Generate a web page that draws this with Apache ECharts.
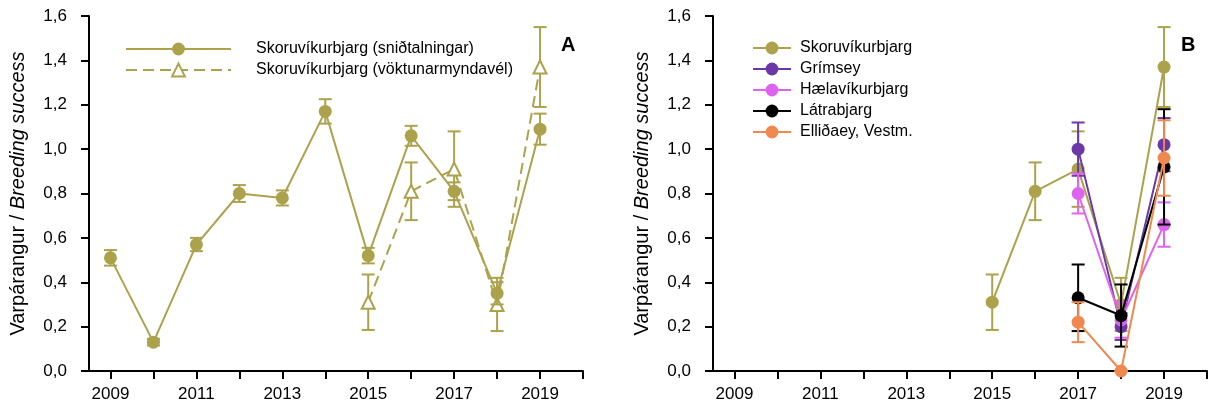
<!DOCTYPE html>
<html>
<head>
<meta charset="utf-8">
<script src="https://cdn.jsdelivr.net/npm/echarts@6/dist/echarts.min.js"></script>
<style>
  html, body { margin: 0; padding: 0; background: #fff; }
  #main { width: 1209px; height: 415px; }
</style>
</head>
<body>
<div id="main"></div>
<script>
// panel A: transect counts (sniðtalningar) 2009-2019
const countYears = [2009, 2010, 2011, 2012, 2013, 2014, 2015, 2016, 2017, 2018, 2019];
const countVals = [0.51, 0.13, 0.57, 0.80, 0.78, 1.17, 0.52, 1.06, 0.81, 0.35, 1.09];
const countErr = [0.035, 0.015, 0.03, 0.038, 0.034, 0.055, 0.035, 0.045, 0.04, 0.05, 0.07];

// camera monitoring (vöktunarmyndavél) 2015-2019, also Skoruvíkurbjarg in panel B
const camYears = [2015, 2016, 2017, 2018, 2019];
const camVals = [0.31, 0.81, 0.91, 0.30, 1.37];
const camErr = [0.125, 0.13, 0.17, 0.12, 0.18];

// panel B: other colonies 2017-2019
const siteYears = [2017, 2018, 2019];
const grimseyVals = [1.00, 0.20, 1.02];
const grimseyErr = [0.12, 0.06, 0.12];
const haelavikVals = [0.80, 0.23, 0.66];
const haelavikErr = [0.09, 0.08, 0.10];
const latraVals = [0.33, 0.25, 0.92];
const latraErr = [0.15, 0.14, 0.26];
const ellidaeyVals = [0.22, 0.00, 0.96];
const ellidaeyErr = [0.09, 0.0, 0.17];

const tickYears = [2009, 2010, 2011, 2012, 2013, 2014, 2015, 2016, 2017, 2018, 2019, 2020];
const labelYears = [2009, 2011, 2013, 2015, 2017, 2019];

const OLIVE = '#ADA24C';
const PURPLE = '#6A38A8';
const PINK = '#E062F0';
const BLACK = '#000000';
const ORANGE = '#F0894F';
const FONT = '"Liberation Sans", Arial, sans-serif';

const chart = echarts.init(document.getElementById('main'));

const pairs = (xs, ys) => xs.map((x, i) => [x, ys[i]]);
const errData = (xs, ys, es) => xs.map((x, i) => [x, ys[i] - es[i], ys[i] + es[i]]);

// error bars drawn as custom series (vertical line + caps)
function errSeries(name, xs, ys, es, color, idx, z) {
  return {
    name: name + ' err',
    type: 'custom',
    xAxisIndex: idx,
    yAxisIndex: idx,
    z: z,
    silent: true,
    itemStyle: { color: color },
    data: errData(xs, ys, es),
    renderItem: function (params, api) {
      const x = api.value(0);
      const lo = api.coord([x, api.value(1)]);
      const hi = api.coord([x, api.value(2)]);
      const w = 6.5;
      const st = { stroke: color, lineWidth: 2 };
      return {
        type: 'group',
        children: [
          { type: 'line', shape: { x1: lo[0], y1: lo[1], x2: hi[0], y2: hi[1] }, style: st },
          { type: 'line', shape: { x1: lo[0] - w, y1: lo[1], x2: lo[0] + w, y2: lo[1] }, style: st },
          { type: 'line', shape: { x1: hi[0] - w, y1: hi[1], x2: hi[0] + w, y2: hi[1] }, style: st }
        ]
      };
    }
  };
}

function lineSeries(name, xs, ys, color, idx, z, extra) {
  return Object.assign({
    name: name,
    type: 'line',
    xAxisIndex: idx,
    yAxisIndex: idx,
    z: z,
    data: pairs(xs, ys),
    symbol: 'circle',
    symbolSize: 13,
    itemStyle: { color: color },
    lineStyle: { color: color, width: 2 }
  }, extra || {});
}

function xAxisCfg(idx) {
  return {
    type: 'value',
    gridIndex: idx,
    min: 2008.5,
    max: 2020,
    splitLine: { show: false },
    axisLine: { onZero: false, lineStyle: { color: '#000', width: 2 } },
    axisTick: { show: true, length: 8, lineStyle: { color: '#000', width: 2 }, customValues: tickYears },
    axisLabel: { customValues: labelYears, color: '#000', fontSize: 17, fontFamily: FONT, margin: 15,
      formatter: v => String(v) }
  };
}

function yAxisCfg(idx) {
  return {
    type: 'value',
    gridIndex: idx,
    min: 0,
    max: 1.6,
    interval: 0.2,
    splitLine: { show: false },
    axisLine: { show: true, lineStyle: { color: '#000', width: 2 } },
    axisTick: { show: true, length: 8, lineStyle: { color: '#000', width: 2 } },
    axisLabel: { color: '#000', fontSize: 17, fontFamily: FONT, margin: 22,
      formatter: v => v.toFixed(1).replace('.', ',') },
    name: '{a|Varpárangur / }{b|Breeding success}',
    nameLocation: 'middle',
    nameGap: 61,
    nameTextStyle: {
      rich: {
        a: { fontSize: 20, fontFamily: FONT, color: '#000' },
        b: { fontSize: 20, fontFamily: FONT, color: '#000', fontStyle: 'italic' }
      }
    }
  };
}

const legendText = { color: '#000', fontSize: 16, fontFamily: FONT };

const option = {
  animation: false,
  backgroundColor: '#fff',
  grid: [
    { left: 89, top: 16, width: 494, height: 355 },
    { left: 713, top: 16, width: 494, height: 355 }
  ],
  xAxis: [xAxisCfg(0), xAxisCfg(1)],
  yAxis: [yAxisCfg(0), yAxisCfg(1)],
  legend: [
    {
      orient: 'vertical',
      left: 125,
      top: 41,
      padding: 0,
      itemWidth: 105,
      itemHeight: 16,
      itemGap: 5,
      textStyle: Object.assign({ padding: [0, 0, 0, 20] }, legendText),
      data: ['Skoruvíkurbjarg (sniðtalningar)', 'Skoruvíkurbjarg (vöktunarmyndavél)']
    },
    {
      orient: 'vertical',
      left: 752,
      top: 40,
      padding: 0,
      itemWidth: 38,
      itemHeight: 16,
      itemGap: 5,
      textStyle: Object.assign({ padding: [0, 0, 0, 4] }, legendText),
      data: ['Skoruvíkurbjarg', 'Grímsey', 'Hælavíkurbjarg', 'Látrabjarg', 'Elliðaey, Vestm.']
    }
  ],
  graphic: [
    { type: 'text', left: 561, top: 35, style: { text: 'A', fontSize: 20, fontWeight: 'bold', fontFamily: FONT, fill: '#000' } },
    { type: 'text', left: 1181, top: 35, style: { text: 'B', fontSize: 20, fontWeight: 'bold', fontFamily: FONT, fill: '#000' } }
  ],
  series: [
    // panel A
    errSeries('Skoruvíkurbjarg (vöktunarmyndavél)', camYears, camVals, camErr, OLIVE, 0, 2),
    lineSeries('Skoruvíkurbjarg (vöktunarmyndavél)', camYears, camVals, OLIVE, 0, 3, {
      symbol: 'emptyTriangle',
      symbolSize: 13,
      itemStyle: { color: OLIVE, borderWidth: 1.5 },
      lineStyle: { color: OLIVE, width: 2, type: [11, 6] }
    }),
    errSeries('Skoruvíkurbjarg (sniðtalningar)', countYears, countVals, countErr, OLIVE, 0, 4),
    lineSeries('Skoruvíkurbjarg (sniðtalningar)', countYears, countVals, OLIVE, 0, 5),
    // panel B
    errSeries('Skoruvíkurbjarg', camYears, camVals, camErr, OLIVE, 1, 2),
    lineSeries('Skoruvíkurbjarg', camYears, camVals, OLIVE, 1, 3),
    errSeries('Grímsey', siteYears, grimseyVals, grimseyErr, PURPLE, 1, 4),
    lineSeries('Grímsey', siteYears, grimseyVals, PURPLE, 1, 5),
    errSeries('Hælavíkurbjarg', siteYears, haelavikVals, haelavikErr, PINK, 1, 6),
    lineSeries('Hælavíkurbjarg', siteYears, haelavikVals, PINK, 1, 7),
    errSeries('Látrabjarg', siteYears, latraVals, latraErr, BLACK, 1, 8),
    lineSeries('Látrabjarg', siteYears, latraVals, BLACK, 1, 9),
    errSeries('Elliðaey, Vestm.', siteYears, ellidaeyVals, ellidaeyErr, ORANGE, 1, 10),
    lineSeries('Elliðaey, Vestm.', siteYears, ellidaeyVals, ORANGE, 1, 11)
  ]
};

chart.setOption(option);
</script>
</body>
</html>
